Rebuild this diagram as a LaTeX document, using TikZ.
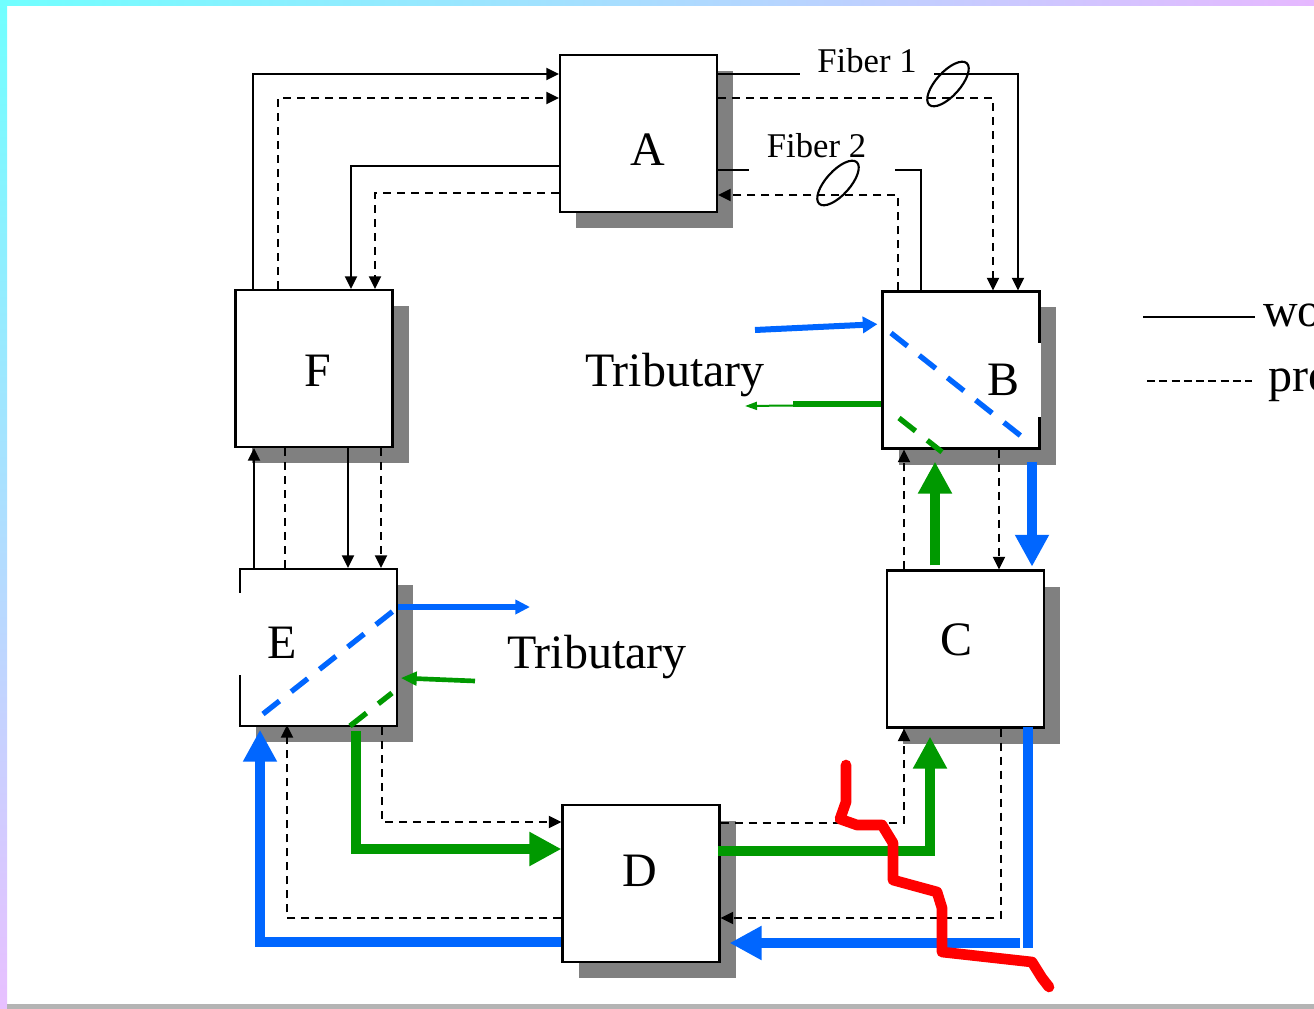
\documentclass[tikz,border=0pt]{standalone}
\usepackage{fontspec}
\setmainfont{Liberation Serif}
\usetikzlibrary{arrows.meta,shadows}
\definecolor{myblue}{HTML}{0066FF}
\definecolor{mygreen}{HTML}{009900}
\definecolor{myred}{HTML}{FF0000}
\definecolor{shgray}{HTML}{808080}
\definecolor{bcyan}{HTML}{70FFFF}
\definecolor{blav}{HTML}{E6B8FF}
\definecolor{bpink}{HTML}{E8C0FF}
\definecolor{bgray}{HTML}{B4B4B4}
\begin{document}
\begin{tikzpicture}[x=0.75pt,y=-0.75pt,
  box/.style={draw,line width=1.6pt,fill=white,minimum width=117.75pt,minimum height=117.75pt,inner sep=0pt,
    drop shadow={shadow xshift=12pt,shadow yshift=-12pt,fill=shgray,opacity=1}},
  big/.style={font=\fontsize{36}{40}\selectfont,inner sep=0pt},
  fib/.style={font=\fontsize{26}{30}\selectfont,inner ysep=0pt,fill=white},
  wk/.style={line width=1.6pt,black},
  pt/.style={wk,dash pattern=on 6pt off 4.5pt},
  arr/.style={-{Triangle[length=9.5pt,width=9pt]}},
  thick blue/.style={line width=7.5pt,myblue,-{Triangle[length=24pt,width=24pt]}},
  thick green/.style={line width=7.5pt,mygreen,-{Triangle[length=24pt,width=24pt]}},
  cdash/.style={line width=4pt,dash pattern=on 15.75pt off 11.25pt},
  redcut/.style={line width=8pt,myred,line cap=round,line join=round}
]
\useasboundingbox (0,0) rectangle (1314,1009);

% frame
\shade[left color=bcyan,right color=blav] (0,0) rectangle (1314,6);
\shade[top color=bcyan,bottom color=bpink] (0,0) rectangle (7,1009);
\fill[bgray] (7,1004) rectangle (1314,1009);

% boxes
\node[box] (A) at (638.5,133.5) {};
\node[box] (F) at (314,368.5) {};
\node[box] (B) at (961,370) {};
\node[box] (E) at (318.5,647.5) {};
\node[box] (C) at (965.5,649) {};
\node[box] (D) at (641,883.5) {};

% labels
\node[big,anchor=base] (lA) at (648,166) {A};
\node[big,anchor=base] (lF) at (318,387) {F};
\node[big,anchor=base,fill=white,text height=39pt,text depth=16.5pt,minimum width=57pt] (lB) at (1003,395) {B};
\node[big,anchor=base,fill=white,text height=48.75pt,text depth=12.75pt,minimum width=64.5pt] (lE) at (282,658) {E};
\node[big,anchor=base] (lC) at (956,655) {C};
\node[big,anchor=base] (lD) at (640,886) {D};
\node[big,anchor=base] (t1) at (675,386) {Tributary};
\node[big,anchor=base] (t2) at (597,668) {Tributary};

% A - F
\draw[wk,arr] (253,0 |- F.north) |- (A.west |- 0,74);
\draw[pt,arr] (278,0 |- F.north) |- (A.west |- 0,98);
\draw[wk,arr] (A.west |- 0,166) -| (351,0 |- F.north);
\draw[pt,arr] (A.west |- 0,193) -| (375,0 |- F.north);

% A - B
\draw[wk,arr] (A.east |- 0,74) -| (1018,0 |- B.north);
\draw[pt,arr] (A.east |- 0,98) -| (993,0 |- B.north);
\draw[wk] (921,0 |- B.north) |- (A.east |- 0,170);
\draw[pt,arr] (898,0 |- B.north) |- (A.east |- 0,195);

% F - E
\draw[wk,arr] (254,0 |- E.north) -- (254,0 |- F.south);
\draw[pt] (285,0 |- F.south) -- (285,0 |- E.north);
\draw[wk,arr] (348,0 |- F.south) -- (348,0 |- E.north);
\draw[pt,arr] (381,0 |- F.south) -- (381,0 |- E.north);

% B - C
\draw[pt,arr] (904,0 |- C.north) -- (904,0 |- B.south);
\draw[thick green,shorten >=9pt,shorten <=3pt] (935,0 |- C.north) -- (935,0 |- B.south);
\draw[pt,arr] (999,0 |- B.south) -- (999,0 |- C.north);
\draw[thick blue,shorten <=9pt,shorten >=2pt] (1032,0 |- B.south) -- (1032,0 |- C.north);

% E - D
\draw[thick blue,shorten >=2pt] (D.west |- 0,942) -| (260,0 |- E.south);
\draw[pt,arr,shorten >=-1.5pt] (D.west |- 0,918) -| (287,0 |- E.south);
\draw[thick green,shorten <=3pt] (356,0 |- E.south) |- (D.west |- 0,849);
\draw[pt,arr] (382,0 |- E.south) |- (D.west |- 0,822);

% D - C
\draw[pt,arr] (D.east |- 0,823) -| (904,0 |- C.south);
\draw[thick green,shorten >=6pt] ([xshift=-2pt]D.east |- 0,851) -| (930,0 |- C.south);
\draw[pt,arr] (1001,0 |- C.south) |- (D.east |- 0,918);
\draw[line width=7.5pt,myblue] ([yshift=1.5pt]1028,0 |- C.south) -- (1028,948);
\draw[thick blue,shorten >=6.75pt] (1020,943) -- (D.east |- 0,943);

% add/drop in B
\draw[myblue,line width=4.5pt,-{Triangle[length=11pt,width=12pt]},shorten >=3pt] (755,330) -- (B.west |- 0,324);
\draw[mygreen,line width=4pt] (B.west |- 0,404) -- (793,404);
\draw[mygreen,line width=1.5pt,-{Triangle[length=9pt,width=6pt]}] (793,405.5) -- (745,406);
\draw[myblue,cdash] (891,333) -- (1026,440);
\draw[mygreen,cdash] (899,418) -- (942,452);

% add/drop in E
\draw[myblue,cdash] (263,714) -- (397,608);
\draw[myblue,line width=4pt,-{Triangle[length=11pt,width=10.5pt]}] (E.east |- 0,607) -- (530,607);
\draw[mygreen,line width=3.5pt,-{Triangle[length=12pt,width=10pt]}] (475,681) -- ([xshift=2pt]E.east |- 0,678);
\draw[mygreen,cdash] (350,726) -- (392,693);

% fiber labels
\node[fib,anchor=base,inner xsep=13pt,text depth=4pt] (f1) at (867,73) {Fiber 1};
\node[fib,anchor=base,inner xsep=13.5pt,text depth=12pt] (f2) at (822,158) {Fiber 2\hspace*{8.25pt}};
\draw[line width=1.6pt] (948,84) ellipse [x radius=28, y radius=12, rotate=48];
\draw[line width=1.6pt] (838,183) ellipse [x radius=28, y radius=12, rotate=48];

% fiber cut
\draw[redcut] (846,765) -- (846,802) -- (840,819) -- (857,825) -- (882,825) -- (893,843) -- (893,880) -- (937,892) -- (942,908) -- (942,952) -- (1032,962) -- (1042,978) -- (1049,987);

% legend
\draw[line width=1.2pt] (1143,317) -- (1255,317);
\draw[line width=1.2pt,dash pattern=on 6pt off 3.2pt] (1147,381) -- (1252,381);
\begin{scope}
\clip (0,0) rectangle (1314,1009);
\node[big,anchor=base west] (lw) at (1263,327) {working};
\node[big,anchor=base west] (lp) at (1268,392) {protection};
\end{scope}
\end{tikzpicture}
\end{document}
